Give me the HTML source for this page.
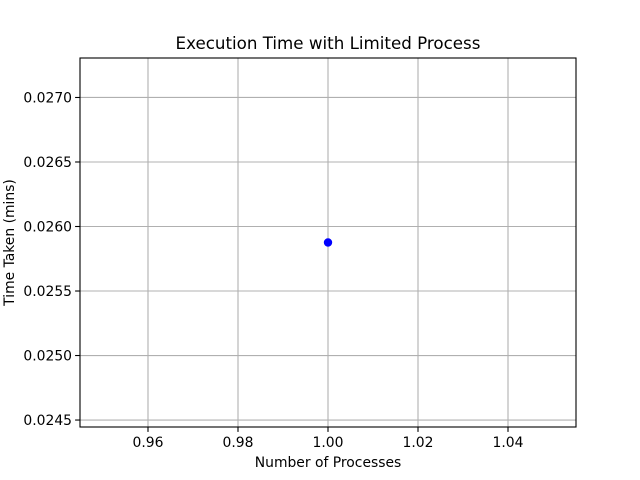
<!DOCTYPE html>
<html><head><meta charset="utf-8"><style>
body{margin:0;background:#fff;}
svg{display:block;font-family:"DejaVu Sans","Liberation Sans",sans-serif;}
</style></head><body>
<svg id="chart" width="640" height="480" xmlns="http://www.w3.org/2000/svg"></svg>
<script>
const xValues = [1.0];
const yValues = [0.025876];
const xTicks = [0.96, 0.98, 1.00, 1.02, 1.04];
const xTickLabels = ["0.96", "0.98", "1.00", "1.02", "1.04"];
const yTicks = [0.0245, 0.0250, 0.0255, 0.0260, 0.0265, 0.0270];
const yTickLabels = ["0.0245", "0.0250", "0.0255", "0.0260", "0.0265", "0.0270"];

const L=80,R=576,T=58,B=427;
const xmin=0.94489,xmax=1.05511,ymin=0.024446,ymax=0.027306;
const sx=v=>L+(v-xmin)/(xmax-xmin)*(R-L);
const sy=v=>B-(v-ymin)/(ymax-ymin)*(B-T);
const svg=document.getElementById('chart');
const NS="http://www.w3.org/2000/svg";
function mk(tag,attrs,text){const e=document.createElementNS(NS,tag);for(const k in attrs)e.setAttribute(k,attrs[k]);if(text!==undefined)e.textContent=text;svg.appendChild(e);return e;}

xTicks.forEach((v,i)=>{
  const x=sx(v);
  const g=mk('line',{x1:x,x2:x,y1:T,y2:B,stroke:'#b0b0b0','stroke-width':1.1});
  
  
  mk('line',{x1:x,x2:x,y1:B,y2:B+4.9,stroke:'#000','stroke-width':1.1});
  const t=mk('text',{x:x,y:B+20,'text-anchor':'middle','font-size':13.9},xTickLabels[i]);
  
  
});
yTicks.forEach((v,i)=>{
  const y=sy(v);
  const g=mk('line',{x1:L,x2:R,y1:y,y2:y,stroke:'#b0b0b0','stroke-width':1.1});
  
  
  mk('line',{x1:L-4.9,x2:L,y1:y,y2:y,stroke:'#000','stroke-width':1.1});
  const t=mk('text',{x:L-8,y:y+5,'text-anchor':'end','font-size':13.9},yTickLabels[i]);
  
  
});
xValues.forEach((v,i)=>{
  const c=mk('circle',{cx:sx(v),cy:sy(yValues[i]),r:4.2,fill:'#0000ff'});
  
  
});
const fr=mk('rect',{x:L,y:T,width:R-L,height:B-T,fill:'none',stroke:'#000','stroke-width':1.1});


const ti=mk('text',{x:(L+R)/2,y:T-9,'text-anchor':'middle','font-size':16.7},'Execution Time with Limited Process');


const xl=mk('text',{x:(L+R)/2,y:467,'text-anchor':'middle','font-size':13.9},'Number of Processes');


const yl=mk('text',{x:14,y:(T+B)/2,'text-anchor':'middle','font-size':13.9,transform:`rotate(-90 14 ${(T+B)/2})`},'Time Taken (mins)');


</script>
</body></html>
